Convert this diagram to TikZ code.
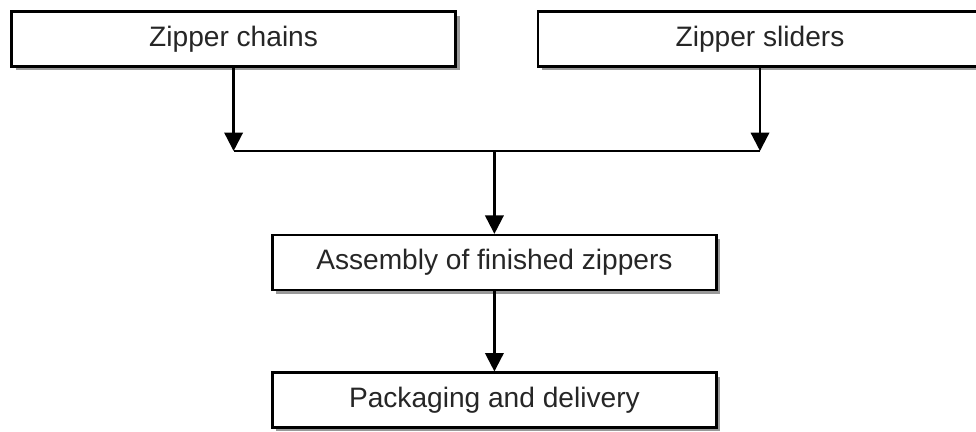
\documentclass[tikz,border=0pt]{standalone}
\usepackage{fontspec}
\setmainfont{Liberation Sans}
\usepackage{tikz}
\usetikzlibrary{arrows.meta, shadows}

\begin{document}
\begin{tikzpicture}[
        box/.style={rectangle, draw, line width=1.6pt, fill=white, minimum height=1.37cm, minimum width=11.1cm, align=center, font=\fontsize{20}{24}\selectfont, text=black!85, drop shadow={shadow xshift=0.1cm, shadow yshift=-0.1cm, fill=black!50, opacity=0.8}},
        arrow/.style={-{Triangle[width=0.46cm, length=0.46cm]}, line width=1.6pt},
        joinline/.style={line width=1.2pt}
    ]
        \useasboundingbox (0,0) rectangle (24.4,-10.8);
        \node[box] (chains) at (5.84,-0.975) {Zipper chains};
        \node[box] (sliders) at (19.0,-0.975) {Zipper sliders};
        \node[box] (assembly) at (12.36,-6.56) {Assembly of finished zippers};
        \node[box] (packaging) at (12.36,-10.0) {Packaging and delivery};
        \coordinate (join) at (12.36,-3.775);
        \draw[arrow] (chains) -- (chains |- join);
        \draw[arrow] (sliders) -- (sliders |- join);
        \draw[joinline] (chains |- join) -- (sliders |- join);
        \draw[arrow] (join) -- (assembly);
        \draw[arrow] (assembly) -- (packaging);
    \end{tikzpicture}
\end{document}
